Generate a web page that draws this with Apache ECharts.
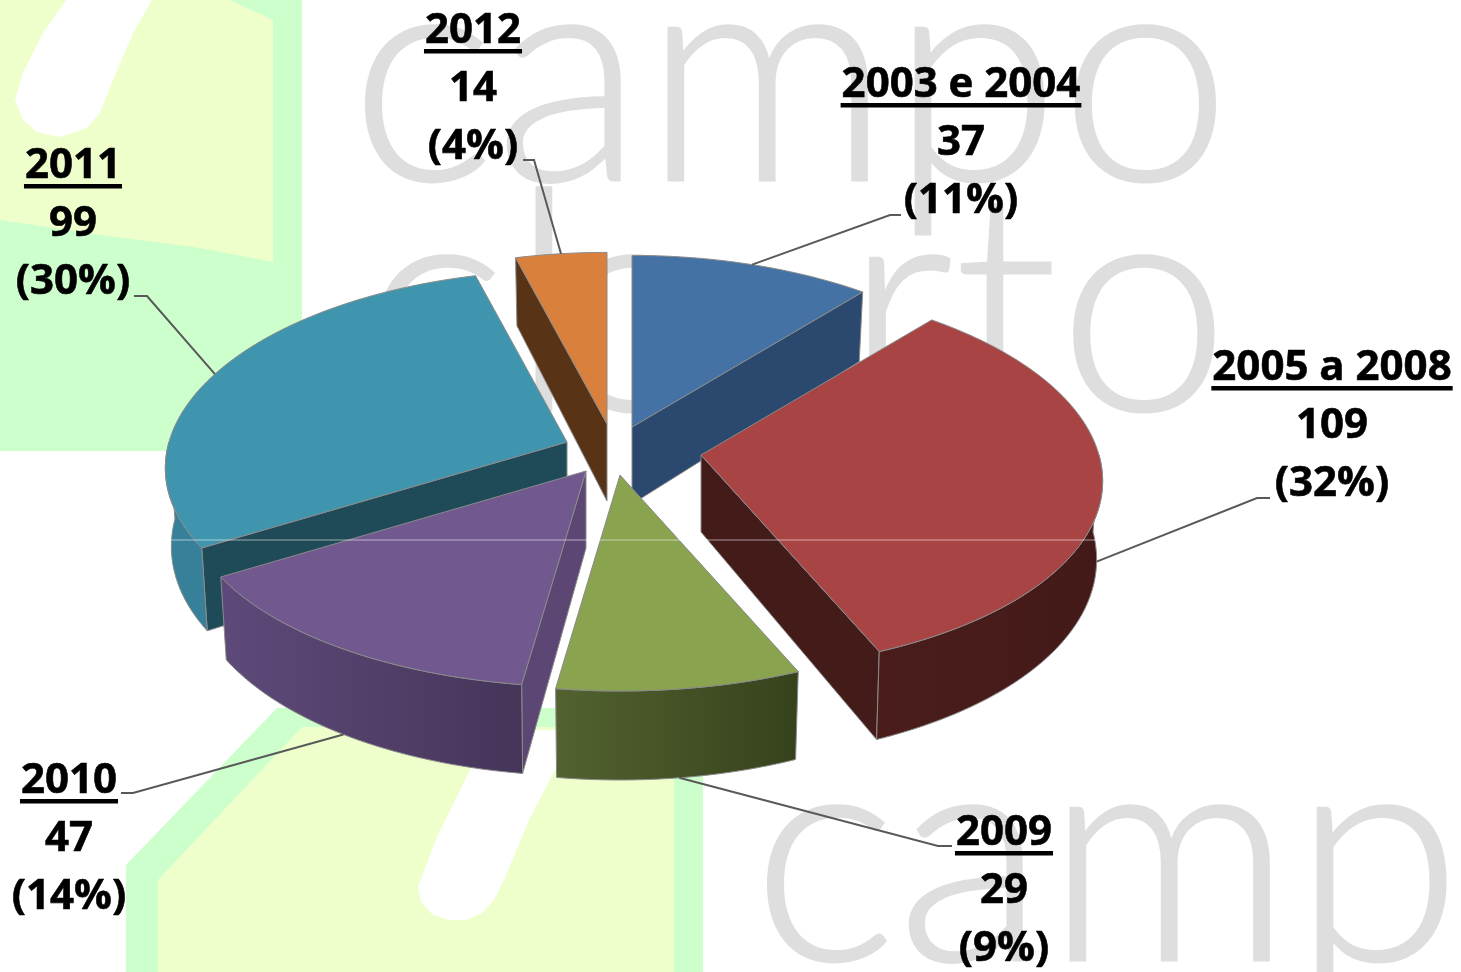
<!DOCTYPE html>
<html><head><meta charset="utf-8">
<style>html,body{margin:0;padding:0;background:#fff}#c{width:1461px;height:972px}</style>
<script src="https://cdn.jsdelivr.net/npm/echarts@6/dist/echarts.min.js"></script>
</head><body><div id="c"></div>
<script>
// ---- data ----
const categories = ['2003 e 2004', '2005 a 2008', '2009', '2010', '2011', '2012'];
const counts = [37, 109, 29, 47, 99, 14];
const percents = [11, 32, 9, 14, 30, 4];

// ---- styling / layout ----
const topColors = ['#4472a5', '#a84544', '#89a34e', '#71588f', '#4095ae', '#d9813c'];
const startWall = ['#2b496e', '#431b19', '#536230', '#5c4674', '#1f4a58', '#583316'];
const endWall = ['#2b496e', '#431b19', '#36421c', '#5c4674', '#1f4a58', '#583316'];
const outerFrom = ['#2b496e', '#4a1d1b', '#536230', '#5e4a7a', '#37809a', '#583316'];
const outerTo = ['#2b496e', '#431a18', '#36421c', '#453559', '#37809a', '#583316'];
const drawOrder = [5, 0, 4, 1, 3, 2];
const centre = [626, 448];
const pull = [[6, -21], [75, 7], [-6, 27], [-40, 23], [-59, -6], [-19, -24]];
const R = 398, tilt = 0.48, persp = 0.1346, depth = 77, shrink = 0.985;
const labelPos = [[961, 85], [1332, 368], [1004, 833], [69, 781], [73, 166], [473, 31]];
const lineGap = 58;
const leaderElbow = [[[901, 215], [890, 215]], [[1270, 498], [1257, 498]], [[952, 846], [938, 846]],
  [[121, 793], [133, 793]], [[134, 296], [147, 296]], [[523, 160], [534, 160]]];
const FONT = '"Open Sans","Noto Sans",sans-serif', FS = 42;

const total = counts.reduce((a, b) => a + b, 0);
const starts = [];
counts.reduce((acc, v, i) => { starts[i] = acc / total * 360; return acc + v; }, 0);

function project(i, deg, r, level) {
  const a = deg * Math.PI / 180, X = Math.sin(a) * r, Y = -Math.cos(a) * r;
  const s = 1 / (1 - persp * Y);
  const ax = centre[0] + pull[i][0], ay = centre[1] + pull[i][1];
  const m = level ? shrink : 1;
  return [ax + X * R * s * m, ay + Y * R * Math.pow(s, 0.85) * tilt + (level ? depth * s : 0)];
}
function arc(i, a0, a1, level) {
  const pts = [], n = Math.max(2, Math.ceil(Math.abs(a1 - a0)));
  for (let k = 0; k <= n; k++) pts.push(project(i, a0 + (a1 - a0) * k / n, 1, level));
  return pts;
}
const edge = { stroke: '#8a8a8a', lineWidth: 1, lineJoin: 'round' };
function poly(points, fill) { return { type: 'polygon', shape: { points }, style: Object.assign({ fill }, edge) }; }

function renderSlice(params, api) {
  const i = api.value(1), a0 = starts[i], a1 = a0 + api.value(0) / total * 360;
  const children = [];
  const apexT = project(i, 0, 0, 0), apexB = project(i, 0, 0, 1);
  const rad = Math.PI / 180;
  if (-Math.sin(a0 * rad) > 1e-6) children.push(poly([apexT, project(i, a0, 1, 0), project(i, a0, 1, 1), apexB], startWall[i]));
  if (Math.sin(a1 * rad) > 1e-6) children.push(poly([apexT, project(i, a1, 1, 0), project(i, a1, 1, 1), apexB], endWall[i]));
  const f0 = Math.max(a0, 90), f1 = Math.min(a1, 270);
  if (f1 > f0) {
    const pts = arc(i, f0, f1, 0).concat(arc(i, f0, f1, 1).reverse());
    children.push(poly(pts, new echarts.graphic.LinearGradient(0, 0, 1, 0,
      [{ offset: 0, color: outerFrom[i] }, { offset: 1, color: outerTo[i] }])));
  }
  children.push(poly([apexT].concat(arc(i, a0, a1, 0)), topColors[i]));
  return { type: 'group', children };
}

const measure = document.createElement('canvas').getContext('2d');
function renderLabel(params, api) {
  const i = api.value(1), v = api.value(0);
  const [x, y] = labelPos[i];
  const mid = starts[i] + v / total * 180;
  const front = Math.cos(mid * Math.PI / 180) < 0;
  const anchor = project(i, mid, 1, front ? 1 : 0);
  const lines = [categories[i], String(v), '(' + percents[i] + '%)'];
  measure.font = 'bold ' + FS + 'px ' + FONT;
  const w = measure.measureText(lines[0]).width;
  const children = [{ type: 'polyline', shape: { points: leaderElbow[i].concat([anchor]) },
    style: { stroke: '#595959', lineWidth: 2, fill: 'none' } }];
  lines.forEach((t, k) => children.push({ type: 'text', style: { text: t, x, y: y + k * lineGap,
    align: 'center', verticalAlign: 'middle', fontFamily: FONT, fontWeight: 'bold', fontSize: FS, fill: '#000', stroke: '#000', lineWidth: 0.6 } }));
  children.push({ type: 'rect', shape: { x: x - w / 2 - 1, y: y + 18, width: w + 2, height: 4.5 }, style: { fill: '#000' } });
  return { type: 'group', children };
}

const wm = (text, x, y) => ({ type: 'text', z: -5, silent: true, style: { text, x, y: y - 252, fontFamily: 'Lato,"Liberation Sans",sans-serif',
  fontWeight: 300, fontSize: 307, fill: '#dedede', stroke: '#dedede', lineWidth: 2, align: 'left' } });
const area = (points, fill) => ({ type: 'polygon', z: -8, silent: true, shape: { points }, style: { fill } });
const blob = (points) => ({ type: 'polygon', z: -7, silent: true, shape: { points }, style: { fill: '#fff' } });

const option = {
  animation: false,
  backgroundColor: '#fff',
  graphic: [
    area([[0, 0], [302, 0], [302, 451], [0, 451]], '#ccffcc'),
    area([[0, 0], [230, 0], [273, 20], [273, 262], [200, 248], [100, 235], [0, 220]], '#eeffcc'),
    blob([[66, 0], [43, 33], [23, 73], [15, 100], [23, 120], [37, 132], [60, 137], [87, 128], [100, 113], [113, 80], [133, 33], [152, 0]]),
    area([[126, 972], [126, 865], [277, 708], [703, 708], [703, 972]], '#ccffcc'),
    area([[158, 972], [158, 880], [302, 727], [674, 727], [674, 972]], '#eeffcc'),
    blob([[490, 730], [470, 770], [437, 837], [418, 887], [421, 902], [432, 914], [448, 920], [466, 920], [482, 913], [494, 900], [504, 880], [529, 820], [555, 770], [575, 730]]),
    wm('campo', 350, 180),
    wm('c', 362, 410), wm('l', 510, 410), wm('o', 548, 410), wm('rto', 845, 410),
    wm('camp', 752, 960),
    { type: 'line', z: 100, silent: true, shape: { x1: 170, y1: 540, x2: 1100, y2: 540 },
      style: { stroke: 'rgba(255,255,255,0.55)', lineWidth: 1 } }
  ],
  series: [
    { type: 'custom', coordinateSystem: 'none', z: 2, silent: true, renderItem: renderSlice,
      data: drawOrder.map(i => [counts[i], i]) },
    { type: 'custom', coordinateSystem: 'none', z: 3, silent: true, renderItem: renderLabel,
      data: categories.map((c, i) => [counts[i], i]) }
  ]
};
const chart = echarts.init(document.getElementById('c'), null, { renderer: 'canvas', width: 1461, height: 972 });
chart.setOption(option);
</script></body></html>
